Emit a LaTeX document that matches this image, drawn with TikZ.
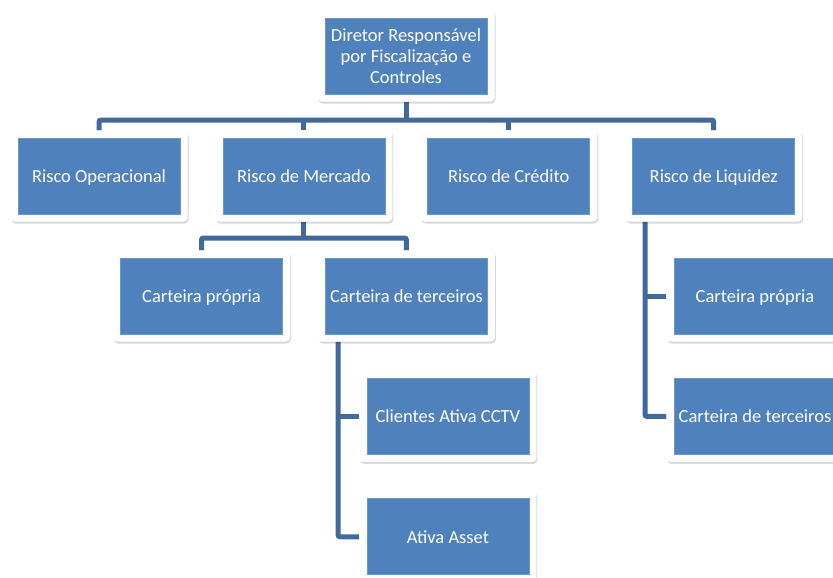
\documentclass[tikz,border=0pt]{standalone}
\usepackage{fontspec}
\setmainfont{Carlito}
\usetikzlibrary{positioning,shadows,backgrounds}

\definecolor{boxblue}{HTML}{4F81BD}
\definecolor{boxedge}{HTML}{6A97CC}
\definecolor{linkblue}{HTML}{41699C}

\begin{document}
\begin{tikzpicture}[
        x=1pt, y=1pt,
        node distance=29pt and 27.5pt,
        box/.style={rectangle, rounded corners=4pt, fill=white, inner sep=0pt,
            minimum width=177pt, minimum height=91pt, align=center, text=white,
            font=\fontsize{18.5}{21}\selectfont,
            drop shadow={shadow xshift=1pt, shadow yshift=-2pt, fill=black, opacity=0.15},
            path picture={\draw[fill=boxblue, draw=boxedge, line width=0.8pt, sharp corners]
                ([shift={(7.5pt,7.5pt)}]path picture bounding box.south west) rectangle
                ([shift={(-7.5pt,-7.5pt)}]path picture bounding box.north east);}},
        single/.style={box, text height=15pt, text depth=2pt},
        link/.style={draw=linkblue, line width=5pt, rounded corners=2pt}
    ]
        \useasboundingbox (0,0) rectangle (833,-578);

        % Top
        \node[box] (dir) at (406,-56) {Diretor Responsável\\por Fiscalização e\\Controles};

        % Risk areas
        \node[single] (oper) at (99,-176) {Risco Operacional};
        \node[single, right=of oper] (merc) {Risco de Mercado};
        \node[single, right=of merc] (cred) {Risco de Crédito};
        \node[single, right=of cred] (liqu) {Risco de Liquidez};

        % Mercado branch
        \node[single] (propM) at (201.5,-296) {Carteira própria};
        \node[single, right=of propM] (tercM) {Carteira de terceiros};
        \node[single, below=of tercM, xshift=41.5pt] (cctv) {Clientes Ativa CCTV};
        \node[single, below=of cctv] (asset) {Ativa Asset};

        % Liquidez branch
        \node[single] (propL) at (755,-296) {Carteira própria};
        \node[single, below=of propL] (tercL) {Carteira de terceiros};

        % Connections
        \begin{scope}[on background layer]
        \coordinate (busA) at (0,-120);
        \coordinate (busB) at (0,-238);
        \draw[link] (dir.south) -- (dir.south |- busA);
        \draw[link] (oper.north) |- (liqu.north |- busA) -- (liqu.north);
        \draw[link] (merc.north) -- (merc.north |- busA);
        \draw[link] (cred.north) -- (cred.north |- busA);

        \draw[link] (merc.south) -- (merc.south |- busB);
        \draw[link] (propM.north) |- (tercM.north |- busB) -- (tercM.north);

        \coordinate (railM) at (338,-300);
        \draw[link] (railM |- tercM.south) |- (asset.west);
        \draw[link] (railM |- cctv.west) -- (cctv.west);

        \coordinate (railL) at (645,-300);
        \draw[link] (railL |- liqu.south) |- (tercL.west);
        \draw[link] (railL |- propL.west) -- (propL.west);
        \end{scope}

    \end{tikzpicture}
\end{document}
